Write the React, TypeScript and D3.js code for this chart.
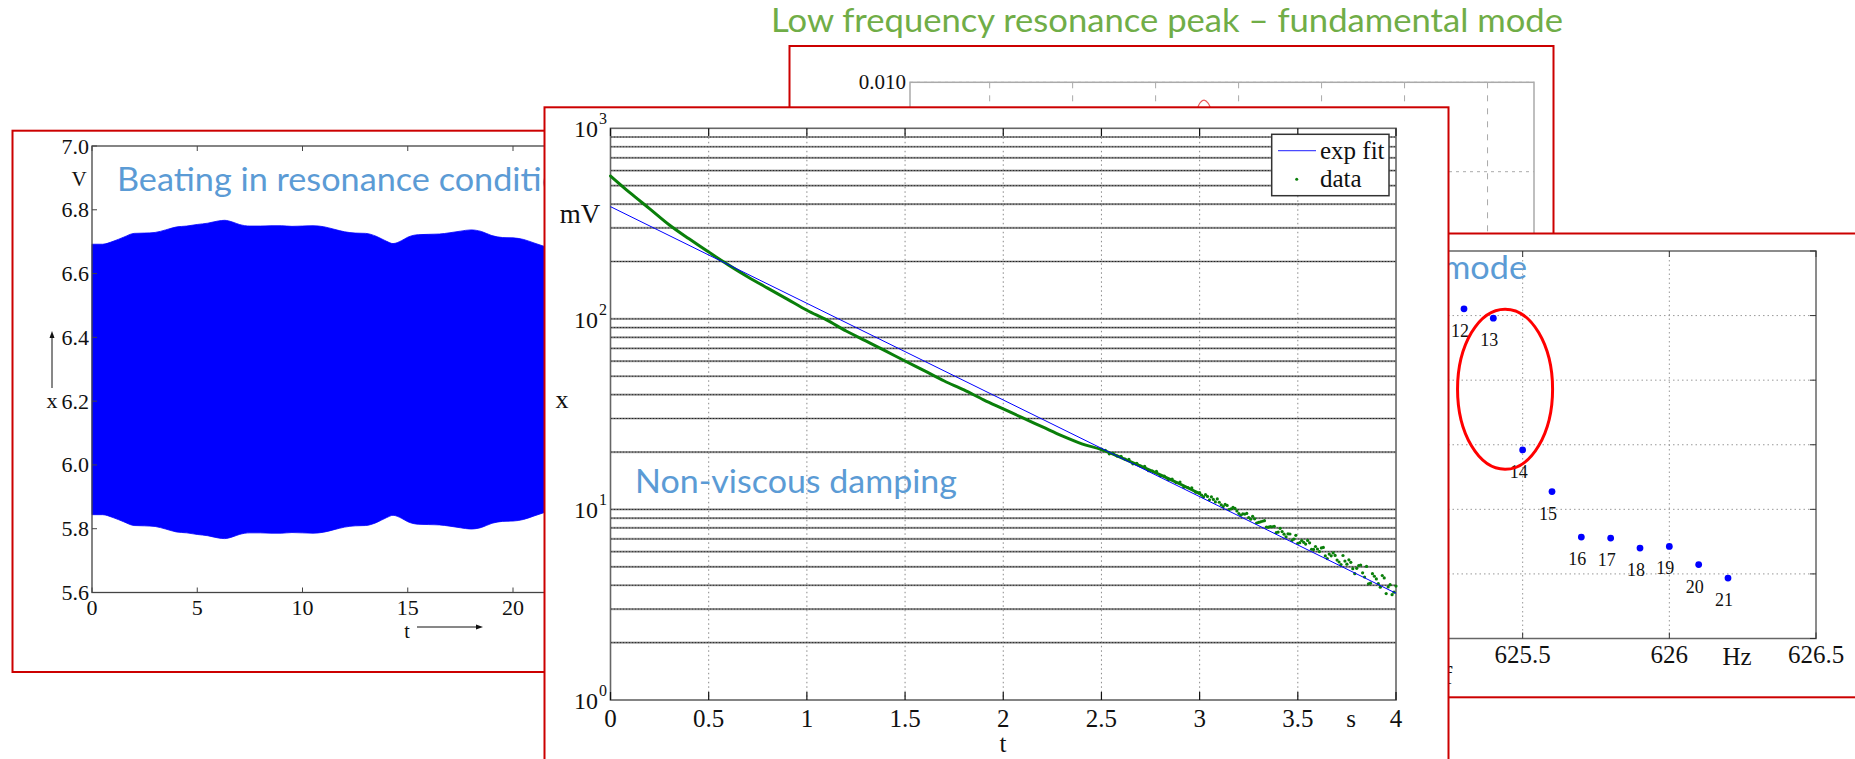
import React from "react";
import * as d3 from "d3";

const SERIF = "'Liberation Serif', 'Times New Roman', serif";
const SANS = "Lato, 'Open Sans', sans-serif";
const RED = "#cc0000";
const TITLE_BLUE = "#5b9bd5";
const TITLE_GREEN = "#70ad47";

// ---------- Beating in resonance conditions ----------
const beatT = [0, 0.5, 1, 1.5, 2, 2.5, 3, 3.5, 4, 4.5, 5, 5.5, 6, 6.3, 6.7, 7, 7.5, 8, 8.5, 9, 9.5, 10, 10.5, 11, 11.5, 12, 12.5, 13, 13.5, 14, 14.3, 14.7, 15, 15.5, 16, 16.5, 17, 17.5, 18, 18.5, 19, 19.5, 20, 20.5, 21, 21.5, 22];
const beatUpper = [6.692, 6.692, 6.701, 6.714, 6.726, 6.727, 6.729, 6.737, 6.746, 6.749, 6.754, 6.758, 6.765, 6.767, 6.761, 6.754, 6.749, 6.749, 6.75, 6.75, 6.748, 6.749, 6.75, 6.747, 6.739, 6.731, 6.727, 6.726, 6.717, 6.701, 6.694, 6.703, 6.714, 6.722, 6.723, 6.724, 6.728, 6.733, 6.737, 6.732, 6.719, 6.713, 6.712, 6.707, 6.696, 6.685, 6.675];
const beatLower = [5.844, 5.844, 5.835, 5.822, 5.81, 5.809, 5.807, 5.799, 5.79, 5.787, 5.782, 5.778, 5.771, 5.769, 5.775, 5.782, 5.787, 5.787, 5.786, 5.786, 5.788, 5.787, 5.786, 5.789, 5.797, 5.805, 5.809, 5.81, 5.819, 5.835, 5.842, 5.833, 5.822, 5.814, 5.813, 5.812, 5.808, 5.803, 5.799, 5.804, 5.817, 5.823, 5.824, 5.829, 5.84, 5.851, 5.861];
const beatXTicks = [0, 5, 10, 15, 20, 25, 30];
const beatYTicks = [5.6, 5.8, 6.0, 6.2, 6.4, 6.6, 6.8, 7.0];

// ---------- Non-viscous damping ----------
const fitT = [0, 4];
const fitV = [388, 3.63];
const dataT = [0, 0.1, 0.2, 0.3, 0.4, 0.5, 0.6, 0.7, 0.8, 0.9, 1.0, 1.1, 1.2, 1.3, 1.4, 1.5, 1.6, 1.7, 1.8, 1.9, 2.0, 2.1, 2.2, 2.3, 2.4, 2.5, 2.6, 2.7, 2.8, 2.9, 3.0];
const dataV = [562, 458, 378, 311, 263, 224, 192, 166, 145, 127, 111, 98.7, 86.4, 76.6, 67.9, 60.1, 53.3, 47.2, 42.4, 37.6, 33.7, 30.2, 27.1, 24.3, 22.1, 20.6, 18.7, 16.9, 15.2, 13.6, 12.1];
const tailT = [
  2.5, 2.52, 2.54, 2.56, 2.58, 2.6, 2.62, 2.64, 2.66, 2.68, 2.7, 2.72, 2.74, 2.76, 2.78, 2.8, 2.82, 2.84, 2.86, 2.88,
  2.9, 2.92, 2.94, 2.96, 2.98, 3.0, 3.02, 3.04, 3.06, 3.08, 3.1, 3.12, 3.14, 3.16, 3.18, 3.2, 3.22, 3.24, 3.26, 3.28,
  3.3, 3.32, 3.34, 3.36, 3.38, 3.4, 3.42, 3.44, 3.46, 3.48, 3.5, 3.52, 3.54, 3.56, 3.58, 3.6, 3.62, 3.64, 3.66, 3.68,
  3.7, 3.72, 3.74, 3.76, 3.78, 3.8, 3.82, 3.84, 3.86, 3.88, 3.9, 3.92, 3.94, 3.96, 3.98, 4.0,
  3.01, 3.03, 3.05, 3.07, 3.09, 3.11, 3.13, 3.15, 3.17, 3.19, 3.21, 3.23, 3.25, 3.27, 3.29, 3.31, 3.33, 3.35, 3.37, 3.39,
  3.41, 3.43, 3.45, 3.47, 3.49, 3.51, 3.53, 3.55, 3.57, 3.59, 3.61, 3.63, 3.65, 3.67, 3.69, 3.71, 3.73, 3.75, 3.77, 3.79,
  3.81, 3.83, 3.85, 3.87, 3.89, 3.91, 3.93, 3.95, 3.97, 3.99,
];
const tailV = [
  20.71, 20.44, 19.57, 19.7, 19.05, 18.99, 18.37, 18.3, 17.36, 17.47, 16.9, 16.84, 15.97, 15.91, 15.84, 15.03, 14.98, 14.35, 14.44, 13.83,
  13.91, 13.08, 13.02, 12.96, 12.31, 12.25, 11.63, 11.7, 11.64, 10.95, 10.91, 10.35, 10.5, 10.07, 10.12, 9.52, 9.48, 9.53, 8.88, 8.93,
  8.55, 8.67, 8.09, 8.13, 8.16, 7.61, 7.65, 7.19, 7.43, 6.99, 6.64, 6.87, 6.58, 6.68, 6.17, 6.2, 6.28, 5.7, 5.83, 5.91,
  5.42, 5.14, 5.36, 5.44, 4.89, 4.91, 5.11, 4.42, 4.07, 4.6, 4.32, 3.91, 4.37, 3.92, 3.57, 3.96,
  11.88, 11.95, 11.23, 11.29, 11.35, 10.58, 10.63, 9.99, 10.24, 9.82, 9.32, 9.46, 9.07, 9.2, 8.49, 8.61, 8.73, 8.07, 8.11, 7.55,
  7.96, 7.42, 7.45, 6.87, 7.31, 6.69, 6.72, 6.88, 6.18, 6.39, 6.01, 6.32, 5.52, 5.71, 5.74, 5.3, 5.73, 5.16, 5.28, 4.6,
  5.08, 4.65, 5.02, 4.1, 4.46, 4.08, 4.5, 3.62, 4.03, 3.68,
];
const dampXTicks = [0, 0.5, 1, 1.5, 2, 2.5, 3, 3.5, 4];
const dampXLabels = ["0", "0.5", "1", "1.5", "2", "2.5", "3", "3.5", "4"];
const dampDecades = [1, 10, 100, 1000];
const dampExp = ["0", "1", "2", "3"];
const legendItems = ["exp fit", "data"];

// ---------- Low frequency resonance peak ----------
const lowXTicks = [624, 624.5, 625, 625.5, 626, 626.5, 627];
const lowYTicks = [0.01, 0.008, 0.006, 0.004, 0.002];
const lowYLabels = ["0.010", "0.008", "0.006", "0.004", "0.002"];
const peakF = [625.1, 625.17, 625.22, 625.245, 625.27, 625.292, 625.315, 625.338, 625.365, 625.41, 625.48];
const peakA = [0.0066, 0.008, 0.0089, 0.00935, 0.00955, 0.0096, 0.00954, 0.00935, 0.0089, 0.008, 0.0066];

// ---------- Higher mode ----------
const modeF = [625.3, 625.4, 625.5, 625.6, 625.7, 625.8, 625.9, 626.0, 626.1, 626.2];
const modeA = [0.01021, 0.00992, 0.00584, 0.00455, 0.00314, 0.00311, 0.0028, 0.00285, 0.00229, 0.00187];
const modeN = ["12", "13", "14", "15", "16", "17", "18", "19", "20", "21"];
const modeXTicks = [625.5, 626, 626.5];
const modeXLabels = ["625.5", "626", "626.5"];
const modeYTicks = [0, 0.002, 0.004, 0.006, 0.008, 0.01, 0.012];
const circledF = 625.44;
const circledA = 0.00772;
const circledHalfF = 0.162;
const circledHalfA = 0.00248;

export default function App() {
  // Panel A: beating
  const aX = d3.scaleLinear().domain([0, 30]).range([92, 723.5]);
  const aY = d3.scaleLinear().domain([5.6, 7.0]).range([592.5, 146]);
  const bandPath =
    d3
      .area<number>()
      .x((_, i) => aX(beatT[i]))
      .y0((_, i) => aY(beatLower[i]))
      .y1((_, i) => aY(beatUpper[i]))
      .curve(d3.curveMonotoneX)(beatT) || "";

  // Panel B: damping
  const bX = d3.scaleLinear().domain([0, 4]).range([610.5, 1396]);
  const bY = d3.scaleLog().domain([1, 1000]).range([700, 128.3]);
  const gridVals: number[] = [];
  for (let e = 0; e < 3; e++)
    for (let m = 1; m <= 9; m++) {
      const v = m * Math.pow(10, e);
      if (v > 1) gridVals.push(v);
    }
  const fitPath = d3.line<number>().x((_, i) => bX(fitT[i])).y((_, i) => bY(fitV[i]))(fitT) || "";
  const dataPath =
    d3
      .line<number>()
      .x((_, i) => bX(dataT[i]))
      .y((_, i) => bY(dataV[i]))
      .curve(d3.curveMonotoneX)(dataT) || "";

  // Panel C: low frequency
  const cX = d3.scaleLinear().domain([623.52, 627.28]).range([910, 1534]);
  const cY = d3.scaleLinear().domain([0, 0.01]).range([529.3, 82.3]);
  const peakPath =
    d3
      .line<number>()
      .x((_, i) => cX(peakF[i]))
      .y((_, i) => cY(peakA[i]))
      .curve(d3.curveCatmullRom)(peakF) || "";

  // Panel D: higher mode
  const dX = d3.scaleLinear().domain([625, 626.5]).range([1376, 1816]);
  const dY = d3.scaleLinear().domain([0, 0.012]).range([638.5, 251]);

  const ecx = dX(circledF);
  const ecy = dY(circledA);
  const erx = dX(circledF + circledHalfF) - ecx;
  const ery = dY(circledA - circledHalfA) - ecy;

  return (
    <svg
      width={1855}
      height={759}
      style={{ position: "absolute", left: 0, top: 0, background: "#fff" }}
      xmlns="http://www.w3.org/2000/svg"
    >
      <rect x={0} y={0} width={1855} height={759} fill="#fff" />

      {/* ===== Top title ===== */}
      <text x={771} y={32} fontFamily={SANS} fontSize={32} fill={TITLE_GREEN} textLength={792} lengthAdjust="spacingAndGlyphs">
        Low frequency resonance peak – fundamental mode
      </text>

      {/* ===== Panel C (low frequency) ===== */}
      <g>
        <rect x={789.5} y={46} width={764} height={420} fill="#fff" stroke={RED} strokeWidth={2} />
        {lowXTicks.map((t) => (
          <line key={"cg" + t} x1={cX(t)} x2={cX(t)} y1={82.3} y2={529.3} stroke="#aaa" strokeWidth={1} strokeDasharray="6 7" />
        ))}
        {lowYTicks.map((t) => (
          <line key={"ch" + t} x1={910} x2={1534} y1={cY(t)} y2={cY(t)} stroke="#aaa" strokeWidth={1} strokeDasharray="3 4" />
        ))}
        <rect x={910} y={82.3} width={624} height={447} fill="none" stroke="#aaa" strokeWidth={1.5} />
        {lowYTicks.map((t, i) => (
          <text key={"cl" + t} x={906} y={cY(t) + 7} textAnchor="end" fontFamily={SERIF} fontSize={21} fill="#111">
            {lowYLabels[i]}
          </text>
        ))}
        <path d={peakPath} fill="none" stroke="#e85a5a" strokeWidth={1.2} />
      </g>

      {/* ===== Panel D (higher mode) ===== */}
      <g>
        <rect x={1300} y={233.5} width={600} height={463.8} fill="#fff" stroke={RED} strokeWidth={2} />
        <text x={1047} y={279} fontFamily={SANS} fontSize={32} fill={TITLE_BLUE} textLength={480} lengthAdjust="spacingAndGlyphs">
          Resonance peak – second mode
        </text>
        {modeYTicks.slice(1, -1).map((t) => (
          <line key={"dh" + t} x1={1376} x2={1816} y1={dY(t)} y2={dY(t)} stroke="#999" strokeWidth={1} strokeDasharray="1.5 3" />
        ))}
        {modeXTicks.slice(0, 2).map((t) => (
          <line key={"dv" + t} x1={dX(t)} x2={dX(t)} y1={251} y2={638.5} stroke="#999" strokeWidth={1} strokeDasharray="1.5 3" />
        ))}
        <rect x={1376} y={251} width={440} height={387.5} fill="none" stroke="#666" strokeWidth={1.5} />
        {modeXTicks.map((t) => (
          <g key={"dt" + t}>
            <line x1={dX(t)} x2={dX(t)} y1={251} y2={257} stroke="#333" />
            <line x1={dX(t)} x2={dX(t)} y1={638.5} y2={632.5} stroke="#333" />
          </g>
        ))}
        {modeYTicks.map((t) => (
          <line key={"dyt" + t} x1={1816} x2={1810} y1={dY(t)} y2={dY(t)} stroke="#333" />
        ))}
        {modeXTicks.map((t, i) => (
          <text key={"dl" + t} x={dX(t)} y={663} textAnchor="middle" fontFamily={SERIF} fontSize={25} fill="#111">
            {modeXLabels[i]}
          </text>
        ))}
        <text x={1737} y={665} textAnchor="middle" fontFamily={SERIF} fontSize={25} fill="#111">Hz</text>
        <text x={1444} y={684} fontFamily={SERIF} fontSize={25} fill="#111">f</text>
        {modeF.map((f, i) => (
          <g key={"dp" + i}>
            <circle cx={dX(f)} cy={dY(modeA[i])} r={3.4} fill="#0000ff" />
            <text x={dX(f) - 4} y={dY(modeA[i]) + 28} textAnchor="middle" fontFamily={SERIF} fontSize={18} fill="#111">
              {modeN[i]}
            </text>
          </g>
        ))}
        <ellipse cx={ecx} cy={ecy} rx={erx} ry={ery} fill="none" stroke="#ff0000" strokeWidth={3} />
      </g>

      {/* ===== Panel A (beating) ===== */}
      <g>
        <rect x={12.5} y={130.7} width={600} height={541.3} fill="#fff" stroke={RED} strokeWidth={2} />
        <path d={bandPath} fill="#0000ff" stroke="#0000ff" strokeWidth={0.8} />
        <rect x={92} y={146} width={631.5} height={446.5} fill="none" stroke="#444" strokeWidth={1.3} />
        {beatXTicks.map((t) => (
          <g key={"at" + t}>
            <line x1={aX(t)} x2={aX(t)} y1={146} y2={151} stroke="#444" />
            <line x1={aX(t)} x2={aX(t)} y1={592.5} y2={587.5} stroke="#444" />
            <text x={aX(t)} y={614.5} textAnchor="middle" fontFamily={SERIF} fontSize={22} fill="#111">
              {t}
            </text>
          </g>
        ))}
        {beatYTicks.map((t) => (
          <g key={"ay" + t}>
            <line x1={92} x2={97} y1={aY(t)} y2={aY(t)} stroke="#444" />
            <text x={89} y={aY(t) + 7.5} textAnchor="end" fontFamily={SERIF} fontSize={22} fill="#111">
              {t.toFixed(1)}
            </text>
          </g>
        ))}
        <text x={79} y={186} textAnchor="middle" fontFamily={SERIF} fontSize={21} fill="#111">V</text>
        <text x={52} y={407.5} textAnchor="middle" fontFamily={SERIF} fontSize={22} fill="#111">x</text>
        <line x1={52} x2={52} y1={388} y2={335} stroke="#111" strokeWidth={1} />
        <path d="M52,331 L49.5,338 L54.5,338 Z" fill="#111" />
        <text x={407} y={637.5} textAnchor="middle" fontFamily={SERIF} fontSize={20} fill="#111">t</text>
        <line x1={417} x2={479} y1={627} y2={627} stroke="#111" strokeWidth={1} />
        <path d="M483,627 L476,624.5 L476,629.5 Z" fill="#111" />
        <text x={117} y={191.4} fontFamily={SANS} fontSize={32} fill={TITLE_BLUE} textLength={478} lengthAdjust="spacingAndGlyphs">
          Beating in resonance conditions
        </text>
      </g>

      {/* ===== Panel B (damping) ===== */}
      <g>
        <rect x={544.5} y={107.3} width={904} height={700} fill="#fff" stroke={RED} strokeWidth={2} />
        {dampXTicks.slice(1, -1).map((t) => (
          <line key={"bv" + t} x1={bX(t)} x2={bX(t)} y1={128.3} y2={700} stroke="#888" strokeWidth={1} strokeDasharray="1.5 3" />
        ))}
        {gridVals.map((v) => (
          <g key={"bh" + v}>
            <line x1={610.5} x2={1396} y1={bY(v)} y2={bY(v)} stroke="#b0b0b0" strokeWidth={2.2} />
            <line x1={610.5} x2={1396} y1={bY(v)} y2={bY(v)} stroke="#222" strokeWidth={1} strokeDasharray="2 1" />
          </g>
        ))}
        <rect x={610.5} y={128.3} width={785.5} height={571.7} fill="none" stroke="#666" strokeWidth={1.6} />
        {dampXTicks.map((t, i) => (
          <g key={"bt" + t}>
            <line x1={bX(t)} x2={bX(t)} y1={128.3} y2={136} stroke="#111" strokeWidth={1.2} />
            <line x1={bX(t)} x2={bX(t)} y1={700} y2={692} stroke="#111" strokeWidth={1.2} />
            <text x={bX(t)} y={727} textAnchor="middle" fontFamily={SERIF} fontSize={25} fill="#111">
              {dampXLabels[i]}
            </text>
          </g>
        ))}
        {dampDecades.map((v, i) => (
          <g key={"bd" + v}>
            <text x={598} y={bY(v) + 9} textAnchor="end" fontFamily={SERIF} fontSize={24} fill="#111">10</text>
            <text x={599} y={bY(v) - 4} fontFamily={SERIF} fontSize={16} fill="#111">{dampExp[i]}</text>
          </g>
        ))}
        <text x={580} y={223} textAnchor="middle" fontFamily={SERIF} fontSize={27} fill="#111">mV</text>
        <text x={562} y={408} textAnchor="middle" fontFamily={SERIF} fontSize={26} fill="#111">x</text>
        <text x={1351} y={727} textAnchor="middle" fontFamily={SERIF} fontSize={25} fill="#111">s</text>
        <text x={1003} y={752} textAnchor="middle" fontFamily={SERIF} fontSize={25} fill="#111">t</text>

        <path d={dataPath} fill="none" stroke="#0a7f0a" strokeWidth={3} strokeLinecap="round" />
        {tailT.map((t, i) => (
          <circle key={"tp" + i} cx={bX(t)} cy={bY(tailV[i])} r={1.6} fill="#0a7f0a" />
        ))}
        <path d={fitPath} fill="none" stroke="#0000ff" strokeWidth={1} />

        {/* legend */}
        <rect x={1271.7} y={134.3} width={117.3} height={61.4} fill="#fff" stroke="#333" strokeWidth={1.5} />
        <line x1={1278} x2={1316} y1={150.7} y2={150.7} stroke="#4a4aff" strokeWidth={1.2} />
        <circle cx={1296.7} cy={179.3} r={1.5} fill="#0a7f0a" />
        <text x={1320} y={159} fontFamily={SERIF} fontSize={25} fill="#111">{legendItems[0]}</text>
        <text x={1320} y={187} fontFamily={SERIF} fontSize={25} fill="#111">{legendItems[1]}</text>

        <text x={635} y={493.3} fontFamily={SANS} fontSize={32} fill={TITLE_BLUE} textLength={322} lengthAdjust="spacingAndGlyphs">
          Non-viscous damping
        </text>
      </g>
    </svg>
  );
}
